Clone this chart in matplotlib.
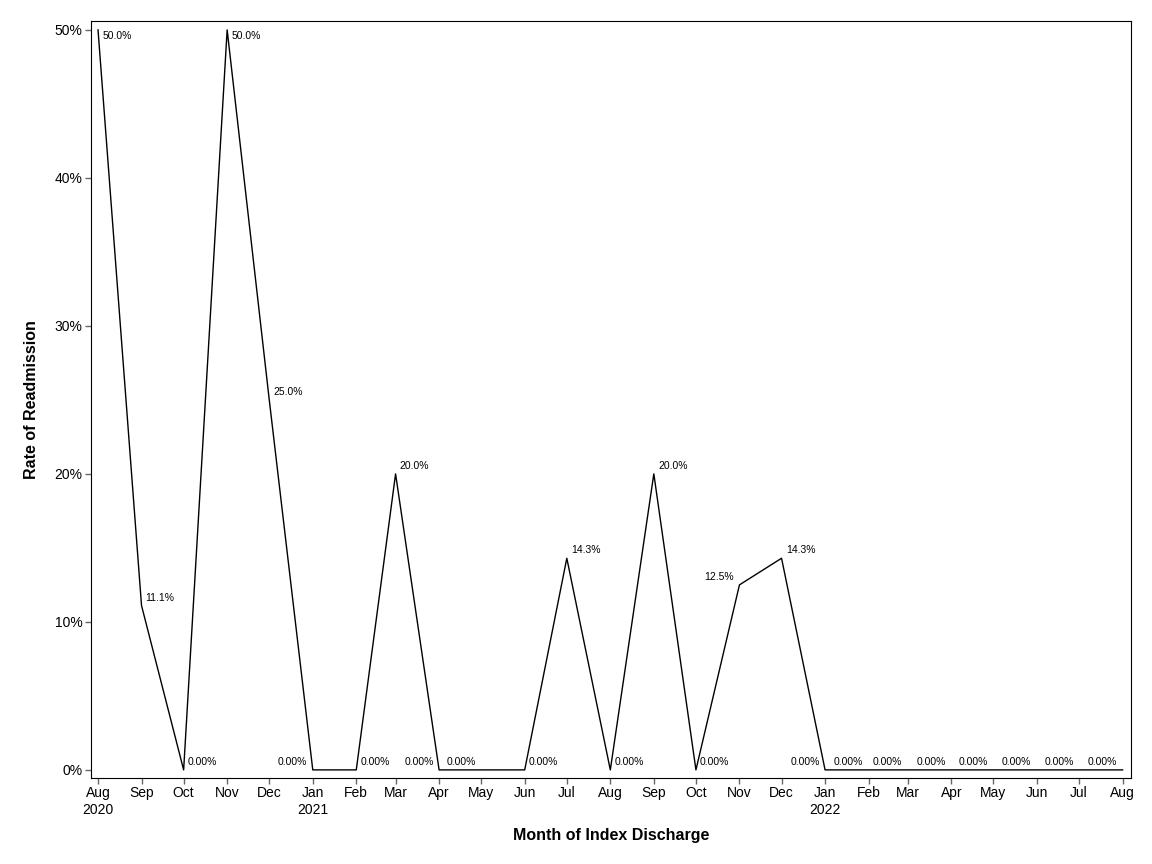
import datetime as dt
import matplotlib
matplotlib.use('Agg')
import matplotlib.pyplot as plt
import matplotlib.dates as mdates
from matplotlib.ticker import FuncFormatter

plt.rcParams['font.family'] = ['Liberation Sans', 'DejaVu Sans']

months = ['2020-08', '2020-09', '2020-10', '2020-11', '2020-12',
          '2021-01', '2021-02', '2021-03', '2021-04', '2021-05', '2021-06',
          '2021-07', '2021-08', '2021-09', '2021-10', '2021-11', '2021-12',
          '2022-01', '2022-02', '2022-03', '2022-04', '2022-05', '2022-06',
          '2022-07', '2022-08']
rate = [50.0, 11.1, 0.0, 50.0, 25.0,
        0.0, 0.0, 20.0, 0.0, 0.0, 0.0,
        14.3, 0.0, 20.0, 0.0, 12.5, 14.3,
        0.0, 0.0, 0.0, 0.0, 0.0, 0.0,
        0.0, 0.0]
# which side of the point each label sits on (r/l), 'rb' = right and below
label_side = ['rb', 'r', 'r', 'rb', 'r',
              'l', 'r', 'r', 'l', 'l', 'r',
              'r', 'r', 'r', 'r', 'l', 'r',
              'l', 'l', 'l', 'l', 'l', 'l',
              'l', 'l']

dates = [dt.datetime.strptime(m, '%Y-%m') for m in months]

fig = plt.figure(figsize=(11.52, 8.64), dpi=100)
ax = fig.add_axes([0.079, 0.0995, 0.9028, 0.8762])

ax.plot(dates, rate, color='black', linewidth=1)

for d, v, s in zip(dates, rate, label_side):
    txt = '0.00%' if v == 0 else f'{v:.1f}%'
    if s == 'l':
        ax.annotate(txt, (d, v), xytext=(-4, 2), textcoords='offset points',
                    ha='right', va='bottom', fontsize=7.5)
    elif s == 'rb':
        ax.annotate(txt, (d, v), xytext=(3, -1), textcoords='offset points',
                    ha='left', va='top', fontsize=7.5)
    else:
        ax.annotate(txt, (d, v), xytext=(3, 2), textcoords='offset points',
                    ha='left', va='bottom', fontsize=7.5)

ax.set_xlim(dt.datetime(2020, 7, 27), dt.datetime(2022, 8, 7))
ax.set_ylim(-0.55, 50.6)
ax.set_yticks([0, 10, 20, 30, 40, 50])
ax.yaxis.set_major_formatter(FuncFormatter(lambda y, p: f'{y:.0f}%'))

ax.xaxis.set_major_locator(mdates.MonthLocator())


def month_fmt(x, pos):
    d = mdates.num2date(x)
    if d.month == 1 or pos == 0:
        return d.strftime('%b\n%Y')
    return d.strftime('%b')


ax.xaxis.set_major_formatter(FuncFormatter(month_fmt))
ax.tick_params(direction='out', length=4, width=1, color='#666666', labelsize=10, pad=2)

ax.set_xlabel('Month of Index Discharge', fontsize=11.5, fontweight='bold', labelpad=8)
ax.set_ylabel('Rate of Readmission', fontsize=11.5, fontweight='bold', labelpad=11)

fig.savefig('out.png', dpi=100)
